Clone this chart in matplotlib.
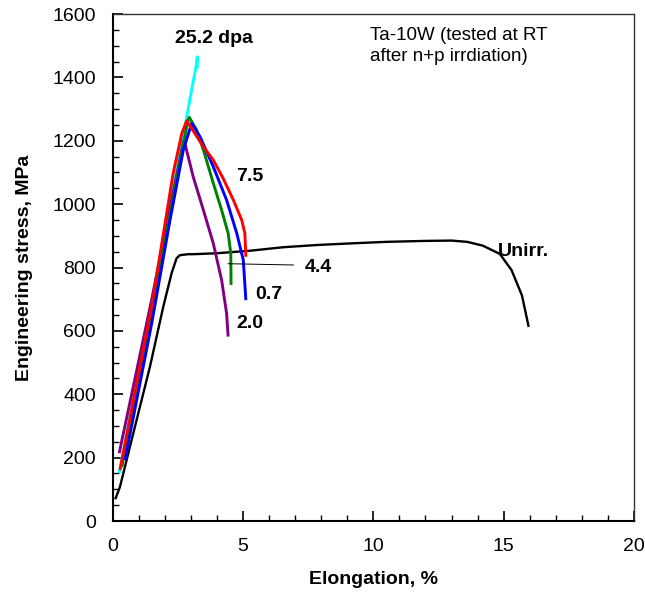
import matplotlib.pyplot as plt
from matplotlib.ticker import MultipleLocator

plt.rcParams['font.family'] = ['Liberation Sans', 'DejaVu Sans']

# tensile curves (elongation %, stress MPa)
unirr_x = [0.115, 0.28, 0.41, 0.855, 1.43, 1.94, 2.26, 2.45, 2.58, 2.9, 3.09, 3.99, 5.27, 6.54,
           7.83, 9.1, 10.5, 12.0, 13.0, 13.6, 14.2, 14.85, 15.3, 15.7, 15.95]
unirr_y = [72, 108, 151, 298, 487, 676, 782, 829, 839, 842, 842, 845, 853, 864,
           871, 876, 881, 884, 885, 881, 869, 843, 792, 712, 616]

dpa252_x = [0.25, 1.5, 2.77, 3.05, 3.2, 3.245, 3.25, 3.245]
dpa252_y = [151, 695, 1244, 1370, 1435, 1465, 1455, 1429]

dpa75_x = [0.28, 1.5, 2.32, 2.65, 2.84, 3.03, 3.48, 3.86, 4.24, 4.63, 4.95, 5.07, 5.11]
dpa75_y = [161, 680, 1097, 1223, 1263, 1239, 1181, 1139, 1081, 1013, 950, 908, 834]

dpa44_x = [0.35, 1.5, 2.7, 2.88, 2.94, 3.22, 3.48, 3.86, 4.18, 4.43, 4.53, 4.54]
dpa44_y = [170, 665, 1185, 1262, 1274, 1234, 1171, 1066, 981, 908, 845, 745]

dpa07_x = [0.47, 1.5, 2.2, 2.71, 3.03, 3.35, 3.86, 4.37, 4.76, 5.01, 5.11]
dpa07_y = [192, 625, 950, 1171, 1255, 1213, 1118, 1013, 908, 824, 697]

dpa20_x = [0.25, 1.5, 2.5, 2.72, 2.77, 3.09, 3.48, 3.86, 4.18, 4.37, 4.43]
dpa20_y = [214, 700, 1110, 1200, 1192, 1086, 981, 876, 760, 655, 582]

fig = plt.figure(figsize=(6.45, 5.97), dpi=100)
ax = fig.add_axes([0.1747, 0.1273, 0.8083, 0.8492])

ax.plot(unirr_x, unirr_y, color='black', lw=1.7, solid_joinstyle='round')
curves = [(dpa252_x, dpa252_y, '#00FFFF'), (dpa20_x, dpa20_y, '#800080'),
          (dpa44_x, dpa44_y, '#008000'), (dpa07_x, dpa07_y, '#0000FF'),
          (dpa75_x, dpa75_y, '#FF0000')]
for xs, ys, c in curves:
    ax.plot(xs, ys, color=c, lw=2.1, solid_joinstyle='round', solid_capstyle='butt')

# leader line for the 4.4 label
ax.plot([4.43, 6.93], [812, 808], color='black', lw=0.7)

lab = dict(fontsize=14, fontweight='bold', va='center', ha='left')
ax.text(2.39, 1522, '25.2 dpa', **lab)
ax.text(4.73, 1088, '7.5', **lab)
ax.text(7.38, 800, '4.4', **lab)
ax.text(5.46, 715, '0.7', **lab)
ax.text(4.76, 622, '2.0', **lab)
ax.text(14.78, 849, 'Unirr.', **lab)
ax.text(9.87, 1560, 'Ta-10W (tested at RT\nafter n+p irrdiation)',
        fontsize=13.5, va='top', ha='left', linespacing=1.3)

ax.set_xlim(0, 20)
ax.set_ylim(0, 1600)
ax.xaxis.set_major_locator(MultipleLocator(5))
ax.xaxis.set_minor_locator(MultipleLocator(1))
ax.yaxis.set_major_locator(MultipleLocator(200))
ax.yaxis.set_minor_locator(MultipleLocator(50))
ax.tick_params(which='both', direction='in', top=False, right=False, labelsize=14, pad=12)
ax.tick_params(which='major', length=7, width=1.2)
ax.tick_params(which='minor', length=4, width=1.0)

for s in ['left', 'bottom']:
    ax.spines[s].set_linewidth(1.5)
for s in ['top', 'right']:
    ax.spines[s].set_linewidth(1.0)
    ax.spines[s].set_color('#333333')

ax.set_xlabel('Elongation, %', fontsize=14, fontweight='bold', labelpad=12)
ax.set_ylabel('Engineering stress, MPa', fontsize=14, fontweight='bold', labelpad=14)

fig.savefig('out.png', dpi=100)
